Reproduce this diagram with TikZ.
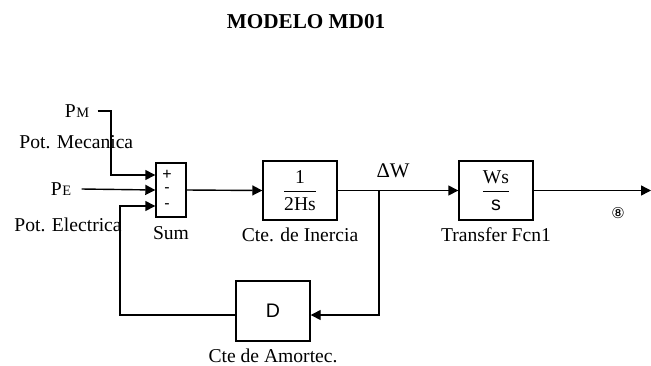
\documentclass[tikz,border=0pt]{standalone}
\usepackage{amsmath}
\usepackage{fontspec}
\setmainfont{Liberation Serif}
\setsansfont{Liberation Sans}
\newfontfamily\simbolos{DejaVu Sans}
\usepackage{tikz}
\usetikzlibrary{arrows.meta,positioning}
\tikzset{
  bloque/.style={rectangle,draw=black,line width=0.7pt,minimum width=37pt,
    minimum height=29.5pt,inner sep=0pt,font=\fontsize{9.8}{11}\selectfont},
  suma/.style={rectangle,draw=black,line width=0.7pt,minimum width=15pt,
    minimum height=27pt,inner sep=0pt},
  signo/.style={inner sep=0pt,font=\sffamily\fontsize{8}{9}\selectfont},
  rotulo/.style={inner sep=0pt,font=\fontsize{9.8}{11}\selectfont},
  flecha/.style={-{Triangle[length=5pt,width=5pt]},line width=0.7pt,black}
}
\newcommand{\subp}[1]{P\kern0.3pt{\fontsize{7.2}{8}\selectfont #1}}

\begin{document}
\begin{tikzpicture}[x=0.5pt,y=-0.5pt]
\useasboundingbox (0,0) rectangle (651,365);
\node[rotulo,font=\bfseries\fontsize{10.6}{12}\selectfont] (titulo) at (306,22) {MODELO MD01};
\node[rotulo] (pm) at (77,111) {\subp{M}};
\node[rotulo,anchor=west] (potmec) at (19,142) {Pot. Mecanica};
\node[rotulo] (pe) at (61,189) {\subp{E}};
\node[rotulo,anchor=west] (potele) at (14,225) {Pot. Electrica};
\node[suma] (sum) at (171,190) {};
\node[signo] (mas) at (167,175) {+};
\node[signo] (menos1) at (167,190) {-};
\node[signo] (menos2) at (167,206) {-};
\node[bloque] (inercia) at (300,190.5) {$\dfrac{\textrm{1}}{\textrm{2Hs}}$};
\node[bloque] (transf) at (496,190.5) {$\dfrac{\textrm{Ws}}{\textsf{s}}$};
\node[bloque,minimum height=30pt] (amort) at (273,311) {\sffamily D};
\node[rotulo,below=4.2pt of sum] (lsum) {Sum};
\node[rotulo,below=3.3pt of inercia] (linercia) {Cte. de Inercia};
\node[rotulo,below=3.3pt of transf] (ltransf) {Transfer Fcn1};
\node[rotulo,below=3.3pt of amort] (lamort) {Cte de Amortec.};
\node[rotulo,font=\fontsize{10.4}{12}\selectfont] (dw) at (393,171) {ΔW};
\node[rotulo,font=\simbolos\fontsize{7.5}{9}\selectfont] (ocho) at (618,213) {⑧};
\coordinate (in1) at ([yshift=7.5pt]sum.west);
\coordinate (in2) at (sum.west);
\coordinate (in3) at ([yshift=-8pt]sum.west);
\coordinate (pmcodo) at (111,175);
\coordinate (fbcodo) at (120,206);
\coordinate (rama) at (379,190.5);
\coordinate (salida) at (651,190.5);
\draw[flecha] ([xshift=4pt]pm.east) -| (pmcodo) -- (in1);
\draw[flecha] ([xshift=5pt]pe.east) -- (in2);
\draw[flecha] ([yshift=-2pt]amort.west) -| (fbcodo) -- (in3);
\draw[flecha] (sum.east) -- (inercia.west);
\draw[flecha] (inercia.east) -- (transf.west);
\draw[flecha] (rama) |- ([yshift=-2pt]amort.east);
\draw[flecha] (transf.east) -- (salida);
\end{tikzpicture}
\end{document}
